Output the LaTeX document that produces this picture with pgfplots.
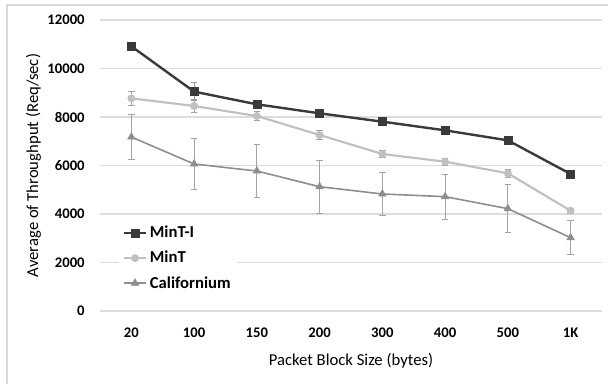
\documentclass[border=0pt]{standalone}
\usepackage{pgfplots}
\pgfplotsset{compat=1.18}
\usepackage{pgfplotstable}
\usepackage{fontspec}
\setmainfont{Carlito}
\definecolor{cdark}{HTML}{3A3A3A}
\definecolor{clight}{HTML}{C0C0C0}
\definecolor{cmid}{HTML}{8E8E8E}
\definecolor{cgrid}{HTML}{DDDDDD}
\definecolor{cframe}{HTML}{D9D9D9}
\pgfplotstableread{
x y e
0 10915 0
1 9045 380
2 8523 0
3 8152 0
4 7808 0
5 7450 0
6 7037 0
7 5650 0
}\mintI
\pgfplotstableread{
x y e
0 8770 290
1 8454 260
2 8041 200
3 7258 180
4 6474 150
5 6158 150
6 5677 180
7 4137 100
}\mint
\pgfplotstableread{
x y e
0 7175 910
1 6062 1040
2 5773 1100
3 5125 1100
4 4825 880
5 4715 930
6 4220 1000
7 3024 710
}\calif
\begin{document}
\begin{tikzpicture}
\useasboundingbox (0,0) rectangle (456pt,287.25pt);
\draw[cframe, line width=0.8pt] (5.25pt,-2pt) -- (5.25pt,283.5pt) -- (458pt,283.5pt);
\begin{axis}[
  at={(75pt,54pt)}, anchor=south west,
  scale only axis, width=376.5pt, height=218.25pt,
  xmin=-0.5, xmax=7.5, ymin=0, ymax=12000,
  xtick={0,...,7}, xticklabels={20,100,150,200,300,400,500,1K},
  ytick={0,2000,...,12000},
  scaled y ticks=false,
  /pgf/number format/assume math mode=true,
  yticklabel style={/pgf/number format/1000 sep={}, xshift=-8pt},
  xticklabel style={yshift=-9pt},
  ticklabel style={font=\bfseries\fontsize{11}{13}\selectfont},
  ymajorgrids, grid style={cgrid, line width=0.8pt},
  axis line style={draw=none}, tick style={draw=none},
  xlabel={Packet Block Size (bytes)},
  ylabel={Average of Throughput (Req/sec)},
  label style={font=\fontsize{12.5}{14}\selectfont},
  xlabel style={yshift=-5pt},
  ylabel style={yshift=-2pt},
  legend style={at={(rel axis cs:0.037,0.315)}, anchor=north west, draw=none, fill=white,
    font=\bfseries\fontsize{12.5}{14}\selectfont, row sep=4.5pt, inner sep=3pt},
  legend cell align=left,
  legend image code/.code={\draw[#1] (0cm,0cm) -- (0.58cm,0cm); \draw[#1, mark repeat=2, mark phase=2] plot coordinates {(0cm,0cm) (0.29cm,0cm) (0.58cm,0cm)};},
]
\addplot[cdark, line width=1.8pt, mark=square*, mark size=3pt, mark options={solid, line width=0.5pt},
  error bars/.cd, y dir=both, y explicit,
  error bar style={clight!80!black, line width=0.7pt},
  error mark options={rotate=90, mark size=2.5pt, clight!80!black, line width=0.7pt}]
  table[x=x, y=y, y error=e] {\mintI};
\addlegendentry{MinT-I}
\addplot[clight, line width=1.6pt, mark=*, mark size=2.7pt, mark options={solid, line width=0.5pt},
  error bars/.cd, y dir=both, y explicit,
  error bar style={clight!85!black, line width=0.7pt},
  error mark options={rotate=90, mark size=2.5pt, clight!85!black, line width=0.7pt}]
  table[x=x, y=y, y error=e] {\mint};
\addlegendentry{MinT}
\addplot[cmid, line width=1.2pt, mark=triangle*, mark size=3.2pt, mark options={solid, line width=0.5pt},
  error bars/.cd, y dir=both, y explicit,
  error bar style={cmid!80, line width=0.7pt},
  error mark options={rotate=90, mark size=2.5pt, cmid!80, line width=0.7pt}]
  table[x=x, y=y, y error=e] {\calif};
\addlegendentry{Californium}
\end{axis}
\end{tikzpicture}
\end{document}
